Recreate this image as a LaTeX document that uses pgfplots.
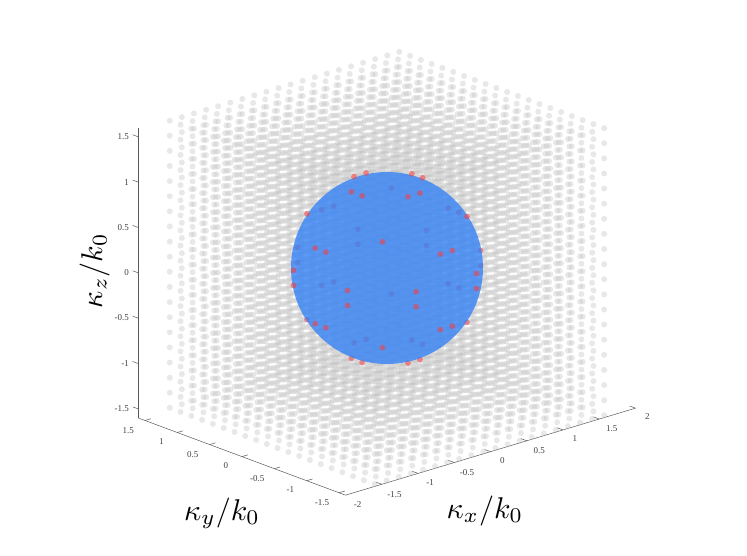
\documentclass[border=0pt]{standalone}
\usepackage{pgfplots}
\pgfplotsset{compat=1.18}
\usepackage{fontspec}
\setmainfont{Liberation Serif}
\definecolor{sphereblue}{RGB}{52,130,245}
\definecolor{latgray}{RGB}{185,185,185}
\definecolor{redpt}{RGB}{255,60,60}
\newcommand\gridvals{-1.583,-1.417,-1.25,-1.083,-0.917,-0.75,-0.583,-0.417,-0.25,-0.083,0.083,0.25,0.417,0.583,0.75,0.917,1.083,1.25,1.417,1.583}
\pgfplotsset{lat/.style={only marks,forget plot,mark=*,mark size=3pt,
  mark options={draw opacity=0,line width=0pt,fill=latgray,fill opacity=0.33}}}
\pgfplotsset{redp/.style={only marks,forget plot,mark=*,mark size=2.9pt,
  mark options={draw opacity=0,line width=0pt,fill=redpt,fill opacity=0.55}}}
\pgfplotsset{axl/.style={forget plot,no marks,black!65,line width=0.5pt}}
\begin{document}
\begin{tikzpicture}[x=1pt,y=1pt]
\path[use as bounding box] (0,0) rectangle (747,556);
\begin{axis}[
  at={(387pt,288pt)},anchor=origin,
  x={(72.5pt,21.75pt)},y={(-64.7pt,24.1pt)},z={(0pt,90.7pt)},
  xmin=-2,xmax=2,ymin=-1.6,ymax=1.6,zmin=-1.6,zmax=1.6,
  clip=false,
  axis line style={draw=none},
  xtick={-2,-1.5,-1,-0.5,0,0.5,1,1.5,2},
  ytick={-1.5,-1,-0.5,0,0.5,1,1.5},
  ztick={-1.5,-1,-0.5,0,0.5,1,1.5},
  xtick pos=left,ytick pos=left,ztick pos=left,
  major tick length=0pt,
  tick style={draw=none},
  /pgf/number format/assume math mode=true,
  tick label style={font=\fontsize{9}{10}\selectfont,text=black!75},
  xticklabel style={xshift=7pt,yshift=-2pt},
  yticklabel style={xshift=-11pt,yshift=-2pt},
  zticklabel style={xshift=-6pt},
  xlabel={$\kappa_x/k_0$},ylabel={$\kappa_y/k_0$},zlabel={$\kappa_z/k_0$},
  every axis x label/.style={at={(axis cs:1.35,0,-3)},anchor=center,scale=3},
  every axis y label/.style={at={(axis cs:0,2.55,-3.38)},anchor=center,scale=3},
  every axis z label/.style={at={(axis cs:0,4.52,-1.23)},anchor=center,scale=3,rotate=90},
]
% lattice: product of the 20 grid values on each axis
\pgfplotsforeachungrouped \zz in {-1.583,-1.417,-1.25,-1.083,-0.917,-0.75,-0.583,-0.417,-0.25,-0.083,0.083,0.25,0.417,0.583,0.75,0.917,1.083,1.25,1.417,1.583} {%
  \gdef\layer{}%
  \foreach \xx in \gridvals {\foreach \yy in \gridvals {\xdef\layer{\layer(\xx,\yy,\zz)}}}%
  \edef\temp{\noexpand\addplot3[lat] coordinates {\layer};}%
  \temp
}
% red points behind the sphere
\addplot3[redp] coordinates {
(-.083,-.417,-.917)(.083,-.417,-.917)(-.083,.417,-.917)(.083,.417,-.917)
(-.083,.917,-.417)(.083,.917,-.417)(-.083,.917,.417)(.083,.917,.417)
(-.417,-.083,-.917)(.417,-.083,-.917)(-.417,.083,-.917)(.417,.083,-.917)
(-.417,.917,-.083)(.417,.917,-.083)(-.417,.917,.083)(.417,.917,.083)
(.917,-.083,-.417)(.917,.083,-.417)(.917,-.083,.417)(.917,.083,.417)
(.917,-.417,-.083)(.917,.417,-.083)(.917,-.417,.083)(.917,.417,.083)
(.583,.583,-.583)(.583,.583,.583)(-.583,.583,-.583)(.583,-.583,-.583)
};
% sphere, centred on the origin
\addplot3[only marks,forget plot,mark=*,mark size=96pt,
  mark options={draw opacity=0,line width=0pt,fill=sphereblue,fill opacity=0.8}] coordinates {(0,0,0)};
% red points in front
\addplot3[redp] coordinates {
(.083,.417,.917)(-.083,.417,.917)(.083,-.417,.917)(-.083,-.417,.917)
(.083,-.917,.417)(-.083,-.917,.417)(.083,-.917,-.417)(-.083,-.917,-.417)
(.417,.083,.917)(-.417,.083,.917)(.417,-.083,.917)(-.417,-.083,.917)
(.417,-.917,.083)(-.417,-.917,.083)(.417,-.917,-.083)(-.417,-.917,-.083)
(-.917,.083,.417)(-.917,-.083,.417)(-.917,.083,-.417)(-.917,-.083,-.417)
(-.917,.417,.083)(-.917,-.417,.083)(-.917,.417,-.083)(-.917,-.417,-.083)
(-.583,-.583,.583)(-.583,-.583,-.583)(.583,-.583,.583)(-.583,.583,.583)
};
% axis lines
\addplot3[axl] coordinates {(-2,-1.6,-1.6)(2,-1.6,-1.6)};
\addplot3[axl] coordinates {(-2,-1.6,-1.6)(-2,1.6,-1.6)};
\addplot3[axl] coordinates {(-2,1.6,-1.6)(-2,1.6,1.6)};
% z ticks
\addplot3[axl] coordinates {(-2,1.6,-1.5)(-2,1.69,-1.5)};
\addplot3[axl] coordinates {(-2,1.6,-1)(-2,1.69,-1)};
\addplot3[axl] coordinates {(-2,1.6,-0.5)(-2,1.69,-0.5)};
\addplot3[axl] coordinates {(-2,1.6,0)(-2,1.69,0)};
\addplot3[axl] coordinates {(-2,1.6,0.5)(-2,1.69,0.5)};
\addplot3[axl] coordinates {(-2,1.6,1)(-2,1.69,1)};
\addplot3[axl] coordinates {(-2,1.6,1.5)(-2,1.69,1.5)};
% x ticks
\addplot3[axl] coordinates {(-1.5,-1.6,-1.6)(-1.5,-1.51,-1.6)};
\addplot3[axl] coordinates {(-1,-1.6,-1.6)(-1,-1.51,-1.6)};
\addplot3[axl] coordinates {(-0.5,-1.6,-1.6)(-0.5,-1.51,-1.6)};
\addplot3[axl] coordinates {(0,-1.6,-1.6)(0,-1.51,-1.6)};
\addplot3[axl] coordinates {(0.5,-1.6,-1.6)(0.5,-1.51,-1.6)};
\addplot3[axl] coordinates {(1,-1.6,-1.6)(1,-1.51,-1.6)};
\addplot3[axl] coordinates {(1.5,-1.6,-1.6)(1.5,-1.51,-1.6)};
\addplot3[axl] coordinates {(2,-1.6,-1.6)(2,-1.51,-1.6)};
% y ticks
\addplot3[axl] coordinates {(-2,-1.5,-1.6)(-1.92,-1.5,-1.6)};
\addplot3[axl] coordinates {(-2,-1,-1.6)(-1.92,-1,-1.6)};
\addplot3[axl] coordinates {(-2,-0.5,-1.6)(-1.92,-0.5,-1.6)};
\addplot3[axl] coordinates {(-2,0,-1.6)(-1.92,0,-1.6)};
\addplot3[axl] coordinates {(-2,0.5,-1.6)(-1.92,0.5,-1.6)};
\addplot3[axl] coordinates {(-2,1,-1.6)(-1.92,1,-1.6)};
\addplot3[axl] coordinates {(-2,1.5,-1.6)(-1.92,1.5,-1.6)};
\end{axis}
\end{tikzpicture}
\end{document}
